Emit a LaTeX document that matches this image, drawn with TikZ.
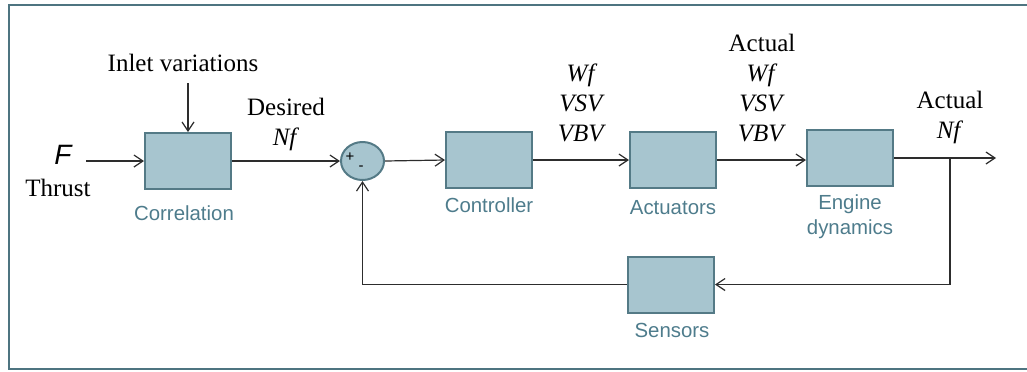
\documentclass[tikz,border=0pt]{standalone}
\usepackage{fontspec}
\setmainfont{Liberation Serif}
\setsansfont{Liberation Sans}
\usepackage{tikz}
\usetikzlibrary{arrows.meta}
\usetikzlibrary{shapes.geometric}
\definecolor{boxfill}{RGB}{167,197,207}
\definecolor{boxline}{RGB}{84,122,134}
\definecolor{labtext}{RGB}{78,124,140}
\definecolor{framec}{RGB}{78,116,128}
\definecolor{wirec}{RGB}{45,45,45}
\tikzstyle{block} = [rectangle, minimum width=43pt, minimum height=28pt, draw=boxline, line width=1pt, fill=boxfill, inner sep=0pt]
\tikzstyle{summer} = [ellipse, minimum width=21.5pt, minimum height=19pt, draw=boxline, line width=1pt, fill=boxfill, inner sep=0pt]
\tikzstyle{blocklabel} = [font=\sffamily\fontsize{10.2}{12.5}\selectfont, text=labtext, align=center, inner sep=0pt]
\tikzstyle{sig} = [font=\fontsize{12.5}{15}\selectfont, align=center, inner sep=0pt]
\tikzstyle{sign} = [font=\sffamily\fontsize{7.5}{8}\selectfont, inner sep=0pt]
\tikzstyle{wire} = [draw=wirec, line width=0.6pt, -{Straight Barb[length=4.5pt,width=6pt]}]
\tikzstyle{plain} = [draw=wirec, line width=0.6pt]

\begin{document}
\begin{tikzpicture}[x=0.5pt, y=-0.5pt]
\useasboundingbox (0,0) rectangle (1027,371);
% frame (right side runs off the page)
\draw[framec, line width=1pt] (1027,5) -- (9,5) -- (9,369) -- (1027,369);
% Blocks
\node[block] (corr) at (188, 161) {};
\node[summer] (sum) at (362.5, 161) {};
\node[block] (ctrl) at (489, 160) {};
\node[block] (act) at (673, 160) {};
\node[block] (eng) at (850, 158) {};
\node[block] (sens) at (671, 284.5) {};
% Block captions
\node[blocklabel] (corrlab) at (184, 213) {Correlation};
\node[blocklabel] (ctrllab) at (489, 205) {Controller};
\node[blocklabel] (actlab) at (673, 208) {Actuators};
\node[blocklabel] (englab) at (850, 217) {Engine\\dynamics};
\node[blocklabel] (senslab) at (672, 330) {Sensors};
% Summer signs
\node[sign] (plus) at (350, 157) {+};
\node[sign] (minus) at (361, 168) {-};
% Signal texts
\node[font=\sffamily\itshape\fontsize{14}{16}\selectfont, inner sep=0pt] (ftxt) at (63, 155) {F};
\node[sig] (thrust) at (58, 188) {Thrust};
\node[sig] (inlet) at (183, 63) {Inlet variations};
\node[sig] (desired) at (286, 124) {Desired\\\textit{Nf}};
\node[sig] (cmd) at (582, 103) {\textit{Wf}\\\textit{VSV}\\\textit{VBV}};
\node[sig] (actual) at (762, 88) {Actual\\\textit{Wf}\\\textit{VSV}\\\textit{VBV}};
\node[sig] (nfout) at (950, 117) {Actual\\\textit{Nf}};
% Free ends
\coordinate (fin) at (86, 161);
\coordinate (inletin) at (188, 83);
\coordinate (br) at (950, 158);
\coordinate (out) at (996, 158);
% Connectors
\draw[wire] (fin) -- (corr.west);
\draw[wire] (inletin) -- (corr.north);
\draw[wire] (corr.east) -- (sum.west);
\draw[wire] (sum.east) -- (ctrl.west);
\draw[wire] (ctrl.east) -- (ctrl.east -| act.west);
\draw[wire] (act.east) -- (act.east -| eng.west);
\draw[plain] (eng.east) -- (br);
\draw[wire] (br) -- (out);
\draw[wire] (br) |- (sens.east);
\draw[wire] (sens.west) -| (sum.south);
\end{tikzpicture}
\end{document}
